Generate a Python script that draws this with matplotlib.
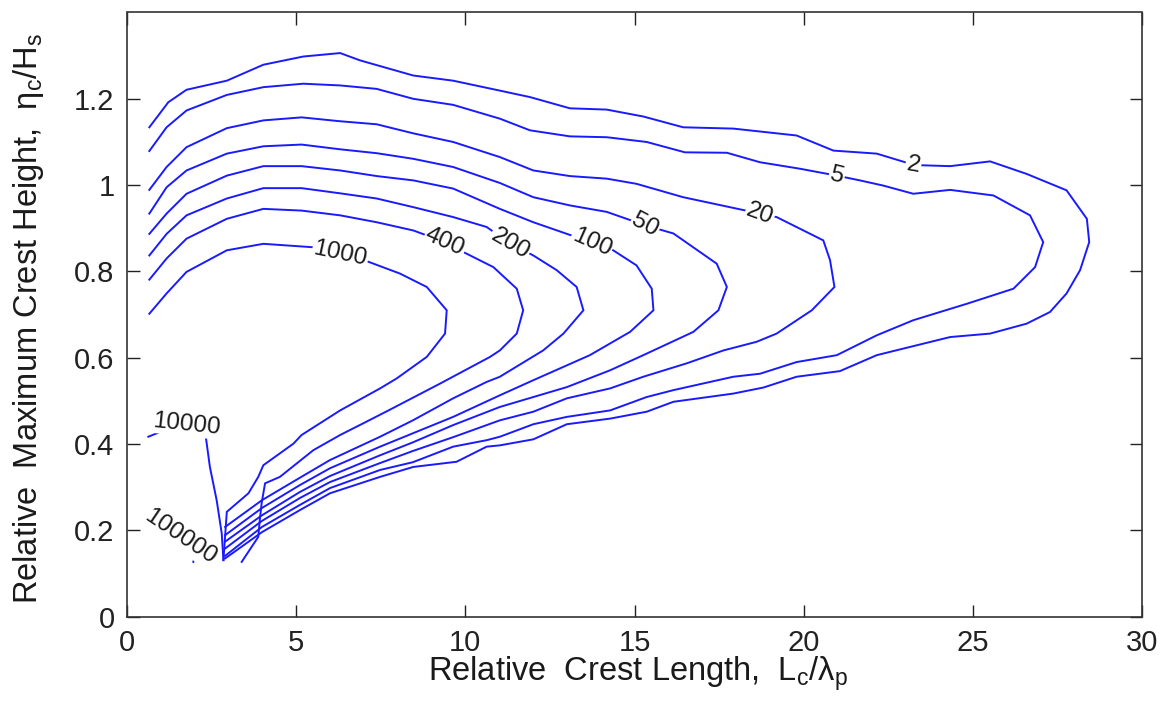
import numpy as np
import matplotlib
matplotlib.use("Agg")
import matplotlib.pyplot as plt

plt.rcParams["font.family"] = ["Liberation Sans", "DejaVu Sans"]
plt.rcParams["mathtext.default"] = "regular"

# Contour polylines of the occurrence count, keyed by level.
# Each polyline runs from the left edge, around the nose, back to the
# convergence point near Lc/lambda_p ~ 3.
level_2_x = [0.66, 1.22, 1.76, 2.95, 4.03, 5.21, 6.30, 6.89, 8.46, 9.64, 11.02, 11.91, 13.09,
             14.18, 15.26, 16.44, 17.92, 19.79, 20.88, 22.16, 23.00, 23.49, 24.33, 25.51, 26.59,
             27.77, 28.37, 28.44, 28.17, 27.77, 27.28, 26.59, 25.51, 24.33, 23.14, 22.16, 21.07,
             19.79, 18.81, 17.92, 16.15, 15.36, 14.28, 13.00, 12.01, 11.02, 10.63, 9.74, 8.46,
             7.48, 6.00, 5.11, 3.99, 2.90]
level_2_y = [1.134, 1.192, 1.221, 1.242, 1.279, 1.298, 1.306, 1.289, 1.254, 1.242, 1.219, 1.204,
             1.178, 1.175, 1.159, 1.134, 1.131, 1.115, 1.080, 1.073, 1.053, 1.046, 1.044, 1.055,
             1.026, 0.988, 0.922, 0.868, 0.803, 0.749, 0.706, 0.679, 0.656, 0.648, 0.625, 0.606,
             0.569, 0.556, 0.531, 0.517, 0.498, 0.475, 0.459, 0.446, 0.411, 0.397, 0.394, 0.359,
             0.347, 0.324, 0.286, 0.247, 0.196, 0.135]

level_5_x = [0.66, 1.17, 1.76, 2.95, 4.03, 5.21, 6.30, 7.38, 8.46, 9.64, 11.02, 11.91, 13.09,
             14.18, 15.36, 16.49, 17.73, 18.71, 19.89, 20.98, 21.66, 22.35, 23.24, 24.33, 25.61,
             26.69, 27.08, 26.84, 26.20, 24.82, 23.24, 22.16, 20.98, 19.79, 18.71, 17.92, 16.15,
             15.36, 14.28, 13.00, 12.01, 11.02, 10.63, 9.64, 8.45, 7.48, 6.00, 5.11, 3.99, 2.90]
level_5_y = [1.079, 1.134, 1.173, 1.209, 1.227, 1.235, 1.231, 1.223, 1.200, 1.186, 1.154, 1.127,
             1.113, 1.111, 1.100, 1.076, 1.075, 1.053, 1.038, 1.022, 1.011, 0.999, 0.980, 0.989,
             0.976, 0.930, 0.868, 0.810, 0.760, 0.725, 0.687, 0.652, 0.606, 0.590, 0.563, 0.556,
             0.525, 0.509, 0.478, 0.463, 0.446, 0.417, 0.409, 0.394, 0.358, 0.340, 0.298, 0.259,
             0.208, 0.141]

level_20_x = [0.66, 1.17, 1.76, 2.95, 4.03, 5.16, 6.30, 7.38, 8.46, 9.64, 11.02, 12.01, 13.09,
              14.18, 15.06, 16.44, 18.71, 19.20, 20.58, 20.78, 20.91, 20.24, 19.20, 18.61, 17.63,
              16.54, 15.26, 14.28, 13.00, 12.01, 11.02, 9.64, 8.45, 7.48, 6.00, 5.11, 3.99, 2.90]
level_20_y = [0.989, 1.042, 1.088, 1.132, 1.150, 1.157, 1.148, 1.141, 1.120, 1.100, 1.065, 1.034,
              1.021, 1.015, 1.003, 0.972, 0.934, 0.926, 0.872, 0.826, 0.764, 0.710, 0.656, 0.637,
              0.617, 0.587, 0.556, 0.529, 0.506, 0.475, 0.455, 0.416, 0.384, 0.356, 0.312, 0.275,
              0.222, 0.158]

level_50_x = [0.66, 1.17, 1.76, 2.95, 4.03, 5.16, 6.30, 7.38, 8.46, 9.64, 11.02, 12.01, 13.09,
              14.18, 15.31, 16.15, 17.43, 17.73, 17.48, 16.74, 15.26, 14.28, 13.00, 12.01, 11.02,
              9.64, 8.45, 7.48, 6.00, 5.11, 3.99, 2.90]
level_50_y = [0.934, 0.995, 1.034, 1.073, 1.090, 1.094, 1.083, 1.074, 1.061, 1.042, 1.005, 0.972,
              0.953, 0.938, 0.907, 0.888, 0.818, 0.764, 0.710, 0.660, 0.606, 0.571, 0.532, 0.509,
              0.486, 0.444, 0.404, 0.374, 0.326, 0.289, 0.235, 0.174]

level_100_x = [0.66, 1.17, 1.76, 2.95, 4.03, 5.16, 6.30, 7.38, 8.46, 9.64, 11.02, 12.01, 13.74,
               14.37, 15.06, 15.51, 15.56, 14.87, 13.68, 12.01, 11.02, 9.64, 8.45, 7.48, 6.00,
               5.11, 3.99, 2.90]
level_100_y = [0.887, 0.934, 0.980, 1.022, 1.044, 1.044, 1.034, 1.021, 1.011, 0.992, 0.945, 0.914,
               0.867, 0.849, 0.814, 0.760, 0.710, 0.660, 0.606, 0.548, 0.513, 0.463, 0.425, 0.394,
               0.344, 0.305, 0.252, 0.189]

level_200_x = [0.66, 1.17, 1.76, 2.95, 4.03, 5.16, 6.30, 7.38, 8.46, 9.64, 10.63, 11.32, 12.01,
               12.70, 13.29, 13.49, 12.90, 12.30, 11.02, 10.63, 9.64, 8.45, 7.48, 6.00, 5.11,
               3.99, 2.90]
level_200_y = [0.837, 0.887, 0.930, 0.969, 0.993, 0.993, 0.981, 0.969, 0.949, 0.926, 0.903, 0.865,
               0.837, 0.803, 0.764, 0.710, 0.656, 0.617, 0.556, 0.544, 0.506, 0.455, 0.417, 0.363,
               0.322, 0.270, 0.208]

level_400_x = [0.66, 1.17, 1.76, 2.95, 4.03, 5.16, 6.30, 7.38, 8.46, 9.40, 9.94, 10.83, 11.52,
               11.71, 11.52, 11.02, 10.73, 9.25, 7.68, 6.98, 6.30, 5.51, 4.52, 4.08, 3.98, 3.93,
               3.88, 3.39]
level_400_y = [0.781, 0.830, 0.876, 0.922, 0.945, 0.941, 0.930, 0.914, 0.895, 0.868, 0.845, 0.810,
               0.760, 0.710, 0.656, 0.617, 0.602, 0.540, 0.476, 0.448, 0.421, 0.386, 0.324, 0.309,
               0.263, 0.228, 0.185, 0.127]

level_1000_x = [0.66, 1.17, 1.76, 2.95, 4.03, 5.51, 6.30, 7.08, 8.07, 8.86, 9.45, 9.40, 8.86,
                7.97, 7.48, 6.30, 5.16, 4.92, 4.03, 3.88, 3.59, 2.95, 2.85]
level_1000_y = [0.702, 0.749, 0.799, 0.849, 0.864, 0.856, 0.840, 0.824, 0.795, 0.764, 0.710, 0.656,
                0.602, 0.552, 0.529, 0.478, 0.421, 0.401, 0.351, 0.324, 0.286, 0.243, 0.131]

level_10000_x = [0.63, 1.07, 1.77, 2.31, 2.45, 2.65, 2.80, 2.85]
level_10000_y = [0.417, 0.431, 0.440, 0.428, 0.347, 0.270, 0.193, 0.131]

level_100000_x = [2.01, 1.96]
level_100000_y = [0.139, 0.127]

contours = [
    (level_2_x, level_2_y),
    (level_5_x, level_5_y),
    (level_20_x, level_20_y),
    (level_50_x, level_50_y),
    (level_100_x, level_100_y),
    (level_200_x, level_200_y),
    (level_400_x, level_400_y),
    (level_1000_x, level_1000_y),
    (level_10000_x, level_10000_y),
    (level_100000_x, level_100000_y),
]

# Inline contour labels: text, position, rotation (degrees)
label_text = ["2", "5", "20", "50", "100", "200", "400", "1000", "10000", "100000"]
label_x = [23.24, 20.98, 18.71, 15.31, 13.74, 11.32, 9.40, 6.30, 1.77, 1.57]
label_y = [1.046, 1.022, 0.934, 0.907, 0.867, 0.864, 0.868, 0.840, 0.446, 0.185]
label_rot = [-10, -14, -20, -28, -24, -30, -24, -12, -6, -34]

x_ticks = [0, 5, 10, 15, 20, 25, 30]
y_ticks = [0, 0.2, 0.4, 0.6, 0.8, 1.0, 1.2]
y_tick_labels = ["0", "0.2", "0.4", "0.6", "0.8", "1", "1.2"]

W, H = 1171, 719
fig = plt.figure(figsize=(W / 100, H / 100), dpi=100)
ax = fig.add_axes([127 / W, 102.3 / H, 1015 / W, 604.2 / H])

line_color = "#1a1aff"
for xs, ys in contours:
    ax.plot(xs, ys, color=line_color, lw=1.4, solid_joinstyle="miter", zorder=2)

for t, lx, ly, r in zip(label_text, label_x, label_y, label_rot):
    ax.text(lx, ly, t, fontsize=17.5, color="#1a1a1a", rotation=r, rotation_mode="anchor",
            ha="center", va="center", zorder=3,
            bbox=dict(boxstyle="square,pad=0.05", fc="white", ec="none"))

ax.set_xlim(0, 30)
ax.set_ylim(0, 1.4)
ax.set_xticks(x_ticks)
ax.set_xticklabels([str(v) for v in x_ticks])
ax.set_yticks(y_ticks)
ax.set_yticklabels(y_tick_labels)
ax.tick_params(direction="in", top=True, right=True, length=9, width=1.0,
               colors="#222222", labelsize=21, pad=9)
for s in ax.spines.values():
    s.set_color("#333333")
    s.set_linewidth(1.2)

fig.text(638 / W, 1 - 681 / H, "Relative  Crest Length,  L$_c$/λ$_p$",
         fontsize=23.5, ha="center", va="baseline", color="#1a1a1a")
fig.text(37 / W, 1 - 318 / H, "Relative  Maximum Crest Height,  η$_c$/H$_s$",
         fontsize=23.5, ha="center", va="baseline", rotation=90, rotation_mode="anchor",
         color="#1a1a1a")

fig.savefig("out.png", dpi=100, facecolor="white")
